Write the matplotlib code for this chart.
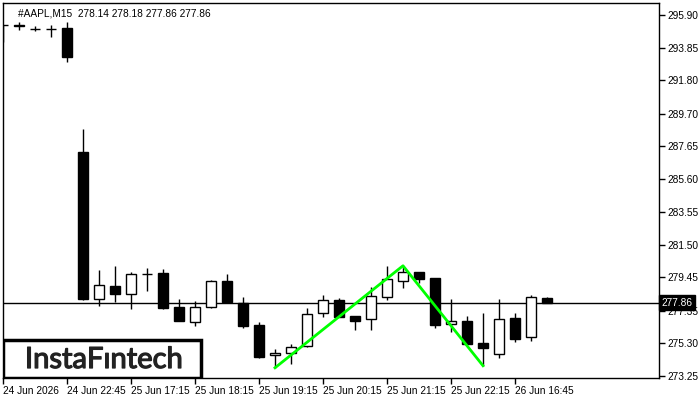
import matplotlib.pyplot as plt
import matplotlib.transforms as mtransforms
import matplotlib.patheffects as pe
from matplotlib.patches import Rectangle

plt.rcParams['font.family'] = ['Liberation Sans', 'DejaVu Sans']

# M15 candles
opens = [295.28, 295.27, 295.02, 295.03, 295.07, 287.31, 278.06, 278.90, 278.38, 279.65,
         279.70, 277.58, 276.62, 277.60, 279.21, 277.85, 276.45, 274.55, 274.71, 275.12,
         277.19, 278.02, 277.02, 276.81, 278.23, 279.23, 279.78, 279.40, 276.50, 276.70,
         275.32, 274.65, 276.89, 275.68, 278.14]
highs = [295.30, 295.46, 295.21, 295.25, 295.46, 288.75, 279.90, 280.15, 279.80, 280.01,
         279.97, 278.08, 277.94, 279.27, 279.65, 278.19, 276.64, 274.93, 275.24, 277.50,
         278.32, 278.17, 277.02, 278.82, 280.15, 280.11, 279.78, 279.40, 278.08, 277.02,
         277.21, 278.08, 277.21, 278.32, 278.18]
lows = [294.21, 294.96, 294.92, 294.54, 292.97, 278.02, 277.66, 277.89, 277.44, 278.60,
        277.44, 276.70, 276.41, 277.50, 277.85, 276.28, 274.40, 273.77, 274.02, 275.10,
        276.97, 276.95, 276.14, 276.14, 278.02, 278.79, 279.07, 276.24, 275.99, 275.25,
        273.90, 274.40, 275.40, 275.47, 277.86]
closes = [295.24, 295.21, 295.00, 295.01, 293.28, 278.06, 278.94, 278.42, 279.63, 279.63,
          277.54, 276.72, 277.58, 279.19, 277.88, 276.41, 274.46, 274.68, 275.07, 277.14,
          278.00, 276.97, 276.72, 278.27, 279.34, 279.76, 279.36, 276.45, 276.70, 275.28,
          275.03, 276.83, 275.59, 278.19, 277.86]

# double top pattern (bar index, price)
pattern_x = [17, 25, 30]
pattern_y = [273.77, 280.17, 273.90]

last_price = 277.86
yticks = [295.90, 293.85, 291.80, 289.70, 287.65, 285.60, 283.55, 281.50,
          279.45, 277.35, 275.30, 273.25]
xtick_pos = [0, 4, 8, 12, 16, 20, 24, 28, 32]
xtick_labels = ['24 Jun 2026', '24 Jun 22:45', '25 Jun 17:15', '25 Jun 18:15',
                '25 Jun 19:15', '25 Jun 20:15', '25 Jun 21:15', '25 Jun 22:15',
                '26 Jun 16:45']

fig = plt.figure(figsize=(7, 4), dpi=100)
ax = fig.add_axes([3 / 700, 22 / 400, 656 / 700, 375 / 400])

for i in range(len(opens)):
    o, h, l, c = opens[i], highs[i], lows[i], closes[i]
    ax.vlines(i, l, h, color='black', linewidth=1, zorder=2)
    fill = 'white' if c > o else 'black'
    ax.bar(i, max(abs(c - o), 0.01), bottom=min(o, c), width=0.68,
           color=fill, edgecolor='black', linewidth=1, zorder=3)

ax.axhline(last_price, color='black', linewidth=1, zorder=1)
ax.plot(pattern_x, pattern_y, color='#00ff00', linewidth=2, zorder=4)

ax.set_xlim(0, 41)
ax.set_ylim(273.13, 296.65)

ax.yaxis.tick_right()
ax.set_yticks(yticks)
ax.set_yticklabels(['%.2f' % v for v in yticks])
ax.set_xticks(xtick_pos)
ax.set_xticklabels(xtick_labels, ha='left')
ax.tick_params(axis='both', length=4, width=1, labelsize=7.3, colors='black', pad=2)
for sp in ax.spines.values():
    sp.set_linewidth(1)

# last price tag
trans = mtransforms.blended_transform_factory(ax.transAxes, ax.transData)
ax.text(1.004, last_price, '%.2f' % last_price, transform=trans, color='white',
        fontsize=7.3, va='center', ha='left', zorder=10, clip_on=False,
        bbox=dict(boxstyle='square,pad=0.25', facecolor='black', edgecolor='black'))

ax.text(0.023, 0.985, '#AAPL,M15  278.14 278.18 277.86 277.86', transform=ax.transAxes,
        fontsize=7.3, va='top', ha='left')

# logo
ax.add_patch(Rectangle((0.0, 0.0), 198 / 656, 38 / 375, transform=ax.transAxes,
                       facecolor='white', edgecolor='black', linewidth=2.5, zorder=8))
ax.text(101 / 656, 18 / 375, 'InstaFıntech', transform=ax.transAxes, fontsize=21,
        family='Lato', color='#222222', ha='center', va='center', zorder=9,
        path_effects=[pe.withStroke(linewidth=0.9, foreground='#222222')])

fig.savefig('out.png', dpi=100)
